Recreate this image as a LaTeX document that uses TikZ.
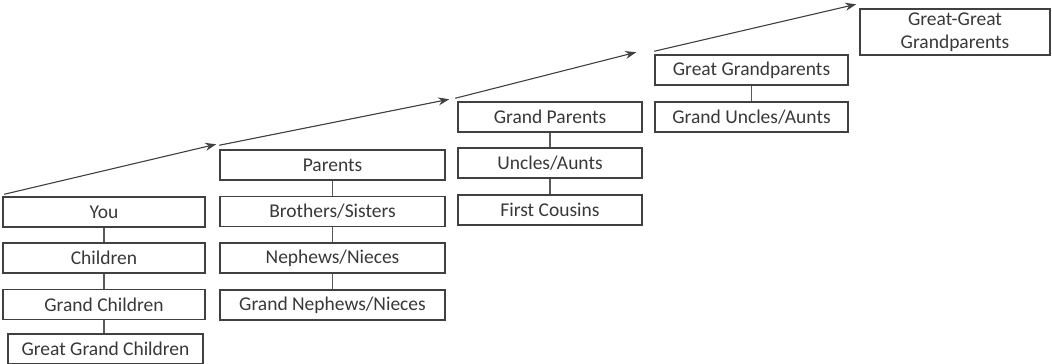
\documentclass[tikz,border=0pt]{standalone}
\usepackage{fontspec}
\setmainfont{Carlito}
\usetikzlibrary{arrows.meta}

\begin{document}
\begin{tikzpicture}[>={Stealth[length=11pt, width=8pt]}, x=1pt, y=-1pt]
    \tikzstyle{format} = [draw=black!75, line width=1.5pt, rectangle, minimum height=30pt, inner sep=0pt, text=black!78, font=\fontsize{19.5}{23}\selectfont, align=center]
    \tikzstyle{link} = [black!65, line width=1.2pt]
    \tikzstyle{climb} = [->, black!75, line width=1.1pt]

    \useasboundingbox (0,0) rectangle (1052,364);

    % first generation column
    \path
      node[format, minimum width=202pt] (you)  at (104,212)   {You}
      node[format, minimum width=202pt] (ch)   at (104,258)   {Children}
      node[format, minimum width=202pt] (gch)  at (104,304.5) {Grand Children}
      node[format, minimum width=195pt] (ggch) at (105.5,349) {Great Grand Children};

    % second generation column
    \path
      node[format, minimum width=225pt] (par)  at (332.5,165)   {Parents}
      node[format, minimum width=225pt] (bro)  at (332.5,211.5) {Brothers/Sisters}
      node[format, minimum width=225pt] (nep)  at (332.5,258)   {Nephews/Nieces}
      node[format, minimum width=225pt] (gnep) at (332.5,305)   {Grand Nephews/Nieces};

    % third generation column
    \path
      node[format, minimum width=184pt] (gp)  at (550,117) {Grand Parents}
      node[format, minimum width=184pt] (unc) at (550,163) {Uncles/Aunts}
      node[format, minimum width=184pt] (fc)  at (550,210) {First Cousins};

    % fourth and fifth generation
    \path
      node[format, minimum width=193pt] (ggp)  at (751.5,70)  {Great Grandparents}
      node[format, minimum width=193pt] (gunc) at (751.5,117) {Grand Uncles/Aunts}
      node[format, minimum width=190pt, minimum height=46pt] (gggp) at (955,32) {Great-Great\\Grandparents};

    \path[link]
      (you) edge (ch)
      (ch)  edge (gch)
      (gch) edge (gch |- ggch.north)
      (par) edge (bro)
      (bro) edge (nep)
      (nep) edge (gnep)
      (gp)  edge (unc)
      (unc) edge (fc)
      (ggp) edge (gunc);

    \draw[climb] ([shift={(2,-2)}]you.north west) -- ([shift={(-3,-5)}]par.north west);
    \draw[climb] ([shift={(0,-4)}]par.north west) -- ([shift={(-8,-2)}]gp.north west);
    \draw[climb] ([shift={(-2,-3)}]gp.north west) -- ([shift={(-18,-2)}]ggp.north west);
    \draw[climb] ([shift={(0,-3)}]ggp.north west) -- ([shift={(-3,-4)}]gggp.north west);
\end{tikzpicture}
\end{document}
